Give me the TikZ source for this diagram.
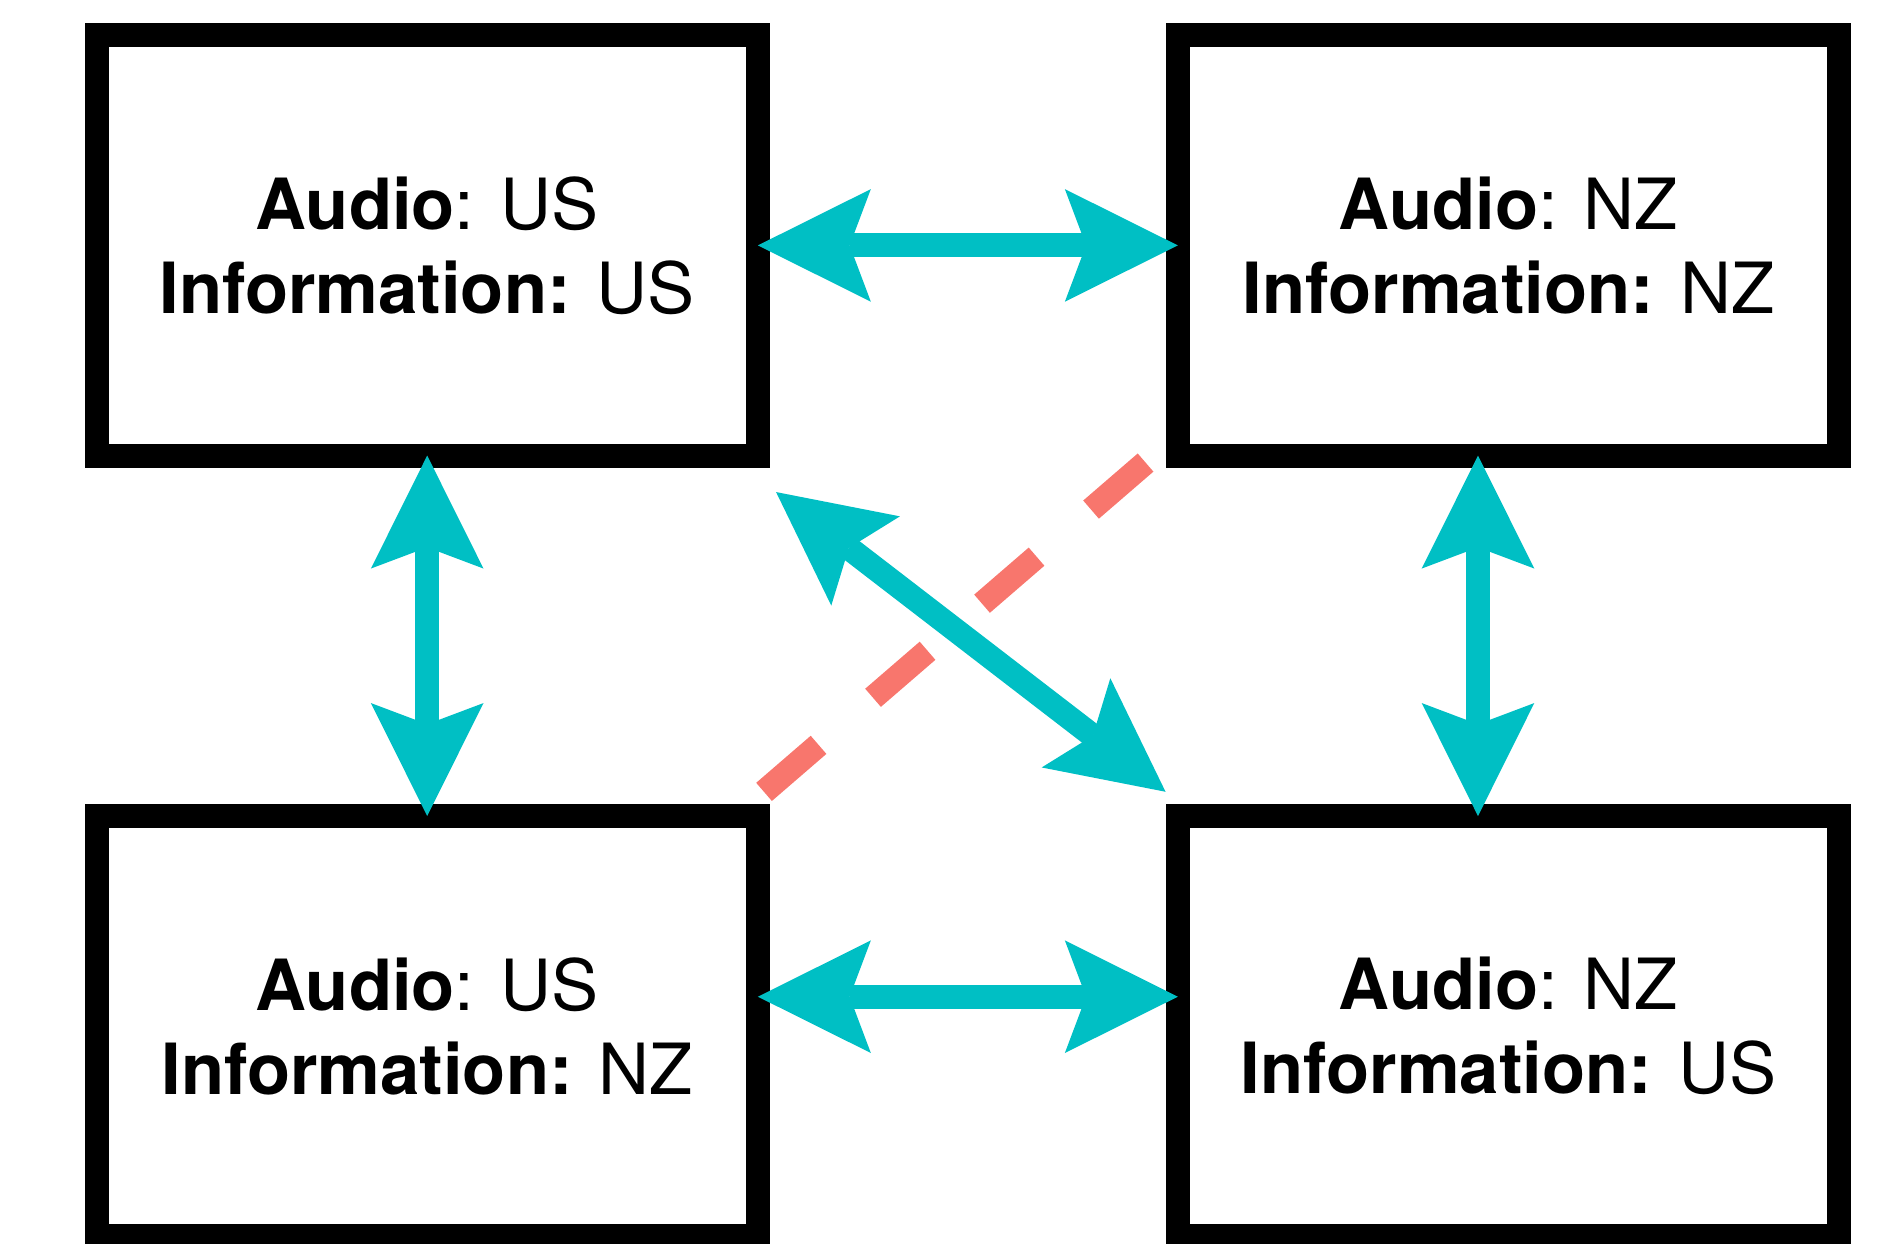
\documentclass[tikz,border=0pt]{standalone}
\usepackage{fontspec}
\setmainfont{TeX Gyre Heros}
\usetikzlibrary{arrows.meta,calc}
\definecolor{tealc}{HTML}{00BFC4}
\definecolor{salmonc}{HTML}{F8766D}
\begin{document}
\begin{tikzpicture}[x=1pt,y=-1pt,
  box/.style={draw=black, line width=24pt, minimum width=661.3pt, minimum height=420.3pt,
    inner sep=0pt, outer sep=0pt, align=center, font=\fontsize{70.6pt}{84pt}\selectfont},
  tipshape/.tip={Stealth[length=113pt,width=112.6pt,inset=21.2pt,line width=0pt]},
  link/.style={draw=tealc, line width=24pt, {tipshape}-{tipshape}},
  cross/.style={draw=salmonc, line width=24pt, dash pattern=on 72pt off 72pt}]
\useasboundingbox (0,0) rectangle (1877,1243);
\clip (0,0) rectangle (1877,1243);
\node[box] (tl) at (427.2,245.4) {\textbf{Audio}: US\\\textbf{Information:} US};
\node[box] (tr) at (1508.5,245.4) {\textbf{Audio}: NZ\\\textbf{Information:} NZ};
\node[box] (bl) at (427.2,1026.2) {\textbf{Audio}: US\\\textbf{Information:} NZ};
\node[box] (br) at (1508.5,1026.2) {\textbf{Audio}: NZ\\\textbf{Information:} US};
% named end points
\coordinate (bla) at ($(bl.east)+(0,-29.5)$);
\coordinate (bra) at ($(br.west)+(0,-29.5)$);
\coordinate (tra) at ($(tr.south)+(-30.5,0)$);
\coordinate (brb) at ($(br.north)+(-30.5,0)$);
\coordinate (d1) at ($(tl.south east)+(18.2,36.5)$);
\coordinate (d2) at ($(br.north west)+(-12.3,-24.3)$);
\coordinate (c1) at ($(tr.south west)+(-32.3,7)$);
\coordinate (c2) at ($(bl.north east)+(6,-24)$);
% connectors
\draw[cross] (c1) -- (c2);
\draw[link] (tl.east) -- (tr.west);
\draw[link] (bla) -- (bra);
\draw[link] (tl.south) -- (bl.north);
\draw[link] (tra) -- (brb);
\draw[link] (d1) -- (d2);
\end{tikzpicture}
\end{document}
